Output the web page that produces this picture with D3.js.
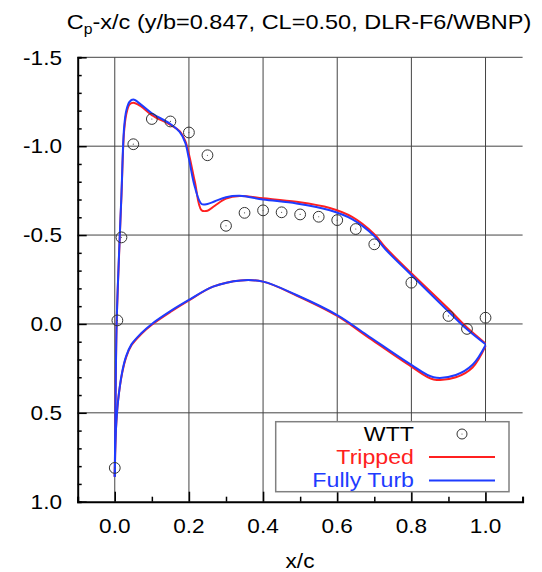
<!DOCTYPE html>
<html>
<head>
<meta charset="utf-8">
<script src="https://cdn.jsdelivr.net/npm/d3@7"></script>
<style>
  body { margin: 0; background: #fff; }
  text { font-family: "Liberation Sans", Arial, sans-serif; }
</style>
</head>
<body>
<script>
// wind tunnel points
var wttX  = [0.0, 0.007, 0.018, 0.05, 0.1, 0.15, 0.2, 0.25, 0.3, 0.35, 0.4, 0.45, 0.5, 0.55, 0.6, 0.65, 0.7, 0.8, 0.9, 0.95, 1.0];
var wttCp = [0.81, -0.02, -0.487, -1.011, -1.153, -1.139, -1.077, -0.949, -0.552, -0.625, -0.639, -0.628, -0.616, -0.603, -0.584, -0.534, -0.448, -0.232, -0.045, 0.028, -0.035];

// upper surface
var upperX    = [0, 0.002, 0.005, 0.012, 0.018, 0.025, 0.031, 0.04, 0.05, 0.07, 0.1, 0.15, 0.175, 0.19, 0.2, 0.216, 0.234, 0.25, 0.27, 0.3, 0.337, 0.4, 0.49, 0.58, 0.64, 0.7, 0.73, 0.8, 0.9, 0.95, 1.0];
var turbUpper = [0.86, 0.45, 0.0, -0.42, -0.73, -1.1, -1.2, -1.25, -1.262, -1.235, -1.185, -1.125, -1.08, -1.02, -0.93, -0.77, -0.675, -0.675, -0.69, -0.713, -0.721, -0.7, -0.678, -0.64, -0.59, -0.495, -0.42, -0.275, -0.07, 0.03, 0.114];
var tripUpper = [0.86, 0.45, 0.0, -0.41, -0.72, -1.08, -1.18, -1.235, -1.245, -1.225, -1.175, -1.12, -1.085, -1.03, -0.955, -0.8, -0.64, -0.637, -0.665, -0.705, -0.72, -0.707, -0.687, -0.652, -0.602, -0.505, -0.43, -0.285, -0.085, 0.02, 0.11];

// lower surface
var lowerX    = [0, 0.003, 0.009, 0.02, 0.031, 0.045, 0.07, 0.1, 0.15, 0.2, 0.265, 0.34, 0.4, 0.49, 0.6, 0.68, 0.8, 0.86, 0.92, 0.965, 1.0];
var turbLower = [0.86, 0.6, 0.43, 0.27, 0.18, 0.115, 0.055, 0.0, -0.072, -0.135, -0.21, -0.245, -0.238, -0.163, -0.05, 0.062, 0.23, 0.3, 0.287, 0.23, 0.12];
var tripLower = [0.86, 0.6, 0.43, 0.275, 0.185, 0.12, 0.06, 0.005, -0.067, -0.132, -0.21, -0.245, -0.238, -0.16, -0.045, 0.07, 0.24, 0.312, 0.3, 0.245, 0.125];

var xTicks = [0.0, 0.2, 0.4, 0.6, 0.8, 1.0];
var yTicks = [-1.5, -1.0, -0.5, 0.0, 0.5, 1.0];
var legendNames = ['WTT', 'Tripped', 'Fully Turb'];

var red = '#ff2020', blue = '#1e3cff';
var sx = 1.13; // text is a bit wide in the reference

var svg = d3.select('body').append('svg')
  .attr('width', 542).attr('height', 572);

var x = d3.scaleLinear().domain([-0.1, 1.1]).range([77.7, 522.6]);
var y = d3.scaleLinear().domain([-1.5, 1.0]).range([57.3, 501.7]);

var label = function(px, py, str, anchor, color) {
  return svg.append('text')
    .attr('transform', 'translate(' + px + ',' + py + ') scale(' + sx + ',1)')
    .attr('text-anchor', anchor)
    .attr('font-size', 20)
    .attr('fill', color || '#000')
    .text(str);
};

// grid
svg.selectAll('.vgrid').data(xTicks).enter().append('line')
  .attr('x1', x).attr('x2', x).attr('y1', y(-1.5)).attr('y2', y(1.0))
  .attr('stroke', '#444').attr('stroke-width', 1);
svg.selectAll('.hgrid').data(yTicks.slice(0, 5)).enter().append('line')
  .attr('x1', x(-0.1)).attr('x2', x(1.1)).attr('y1', y).attr('y2', y)
  .attr('stroke', '#444').attr('stroke-width', 1);

// axes with inward ticks
var minorY = d3.range(-15, 11).map(function(d) { return d / 10; });
var minorX = d3.range(-1, 12).map(function(d) { return d / 10; });

var yAxis = d3.axisRight(y).tickValues(minorY).tickSize(4).tickFormat('');
svg.append('g').attr('transform', 'translate(' + x(-0.1) + ',0)').call(yAxis)
  .call(function(g) {
    g.select('.domain').attr('stroke-width', 2);
    g.selectAll('.tick line').attr('stroke-width', 1.5)
      .attr('x2', function(d) { return Math.round(d * 10) % 5 === 0 ? 9 : 4; });
  });

var xAxis = d3.axisTop(x).tickValues(minorX).tickSize(5).tickFormat('');
svg.append('g').attr('transform', 'translate(0,' + y(1.0) + ')').call(xAxis)
  .call(function(g) {
    g.select('.domain').attr('stroke-width', 2);
    g.selectAll('.tick line').attr('stroke-width', 1.5)
      .attr('y2', function(d) { return Math.round(d * 10) % 2 === 0 && d >= 0 && d <= 1 ? -10 : -5; });
  });

// tick labels
yTicks.forEach(function(d) { label(62, y(d) + 7.3, d.toFixed(1), 'end'); });
xTicks.forEach(function(d) { label(x(d), 533, d.toFixed(1), 'middle'); });
label(300, 568, 'x/c', 'middle');

// title
var title = label(299, 29, '', 'middle').attr('font-size', 20.8);
title.append('tspan').text('C');
title.append('tspan').attr('font-size', 14).attr('dy', 5).text('p');
title.append('tspan').attr('dy', -5).text('-x/c (y/b=0.847, CL=0.50, DLR-F6/WBNP)');

// curves
var line = d3.line().x(function(d) { return x(d[0]); }).y(function(d) { return y(d[1]); })
  .curve(d3.curveCatmullRom.alpha(0.5));

var series = [
  [upperX, tripUpper, red], [lowerX, tripLower, red],
  [upperX, turbUpper, blue], [lowerX, turbLower, blue]
];
series.forEach(function(s) {
  svg.append('path')
    .datum(d3.zip(s[0], s[1]))
    .attr('d', line)
    .attr('fill', 'none')
    .attr('stroke', s[2])
    .attr('stroke-width', 2);
});

// experiment
var pts = svg.selectAll('.wtt').data(d3.zip(wttX, wttCp)).enter().append('g')
  .attr('transform', function(d) { return 'translate(' + x(d[0]) + ',' + y(d[1]) + ')'; });
pts.append('circle').attr('r', 5.4).attr('fill', 'none').attr('stroke', '#333').attr('stroke-width', 1);
pts.append('circle').attr('r', 0.6).attr('fill', '#555');

// legend
svg.append('rect').attr('x', 275.7).attr('y', 421.7).attr('width', 233.3).attr('height', 70)
  .attr('fill', '#fff').attr('stroke', '#808080').attr('stroke-width', 1.5);
var legColors = ['#000', red, blue];
var legBase = [440.5, 463.8, 487];
legendNames.forEach(function(n, i) {
  label(414, legBase[i], n, 'end', legColors[i]).attr('font-size', 20.5);
});
svg.append('circle').attr('cx', 462).attr('cy', 434).attr('r', 5).attr('fill', 'none').attr('stroke', '#333');
svg.append('circle').attr('cx', 462).attr('cy', 434).attr('r', 0.6).attr('fill', '#555');
[[457, red], [480.5, blue]].forEach(function(l) {
  svg.append('line').attr('x1', 429).attr('x2', 495).attr('y1', l[0]).attr('y2', l[0])
    .attr('stroke', l[1]).attr('stroke-width', 2);
});
</script>
</body>
</html>
